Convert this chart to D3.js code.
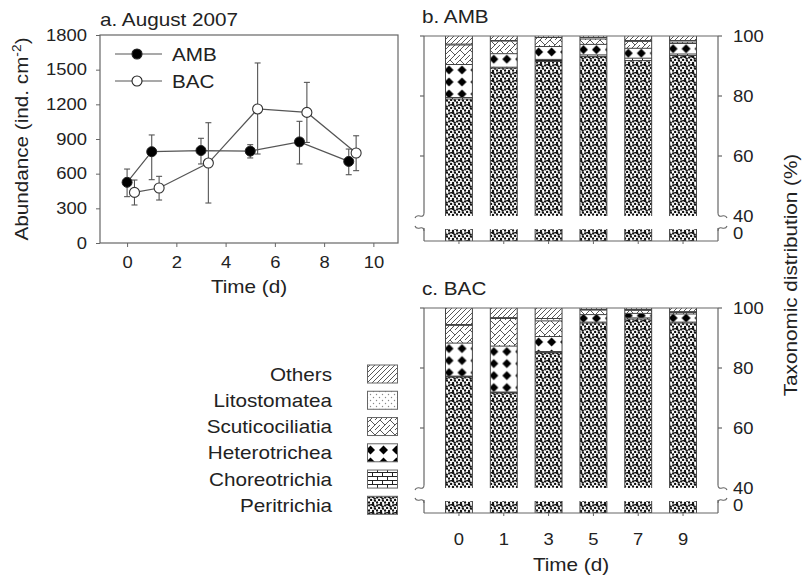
<!DOCTYPE html>
<html><head><meta charset="utf-8">
<script src="https://cdn.jsdelivr.net/npm/d3@7"></script>
<style>body{margin:0;background:#fff}svg{display:block}</style>
</head><body><svg id="c" width="808" height="577"></svg>
<script>
// ---------- data ----------
const timeAMB=[0,1,3,5,7,9];
const ambMean=[525,790,800,795,875,706];
const ambLow=[401,548,684,736,684,591];
const ambHigh=[640,935,906,851,1053,813];
const timeBAC=[0.3,1.3,3.3,5.3,7.3,9.3];
const bacMean=[438,476,692,1160,1130,779];
const bacLow=[329,372,346,770,870,626];
const bacHigh=[545,577,1041,1558,1390,928];
const abundTicks=[0,300,600,900,1200,1500,1800];
const timeTicks=[0,2,4,6,8,10];

const days=["0","1","3","5","7","9"];
const taxa=["Peritrichia","Choreotrichia","Heterotrichea","Scuticociliatia","Litostomatea","Others"];
const ambPeri=[79.0,89.3,91.5,93.2,91.8,93.5];
const ambChor=[0.5,0.3,0.7,0.5,0.8,0.5];
const ambHet=[11.0,4.5,4.3,3.5,3.3,3.5];
const ambScu=[6.5,4.2,3.0,1.8,2.3,0.5];
const ambLit=[0.3,0.2,0.0,0.5,0.3,0.5];
const ambOth=[2.7,1.5,0.5,0.5,1.5,1.5];
const bacPeri=[77.0,71.7,85.1,95.0,96.3,95.0];
const bacChor=[0.3,0.3,0.4,0.3,0.4,0.3];
const bacHet=[11.0,15.3,5.0,2.5,1.5,2.7];
const bacScu=[5.9,9.2,5.2,1.5,1.0,0.5];
const bacLit=[0.3,0.3,0.8,0.2,0.3,0.3];
const bacOth=[5.5,3.2,3.5,0.5,0.5,1.2];
const pctTicks=[40,60,80,100];

// ---------- style ----------
const SX=1.15, FONT="'Liberation Sans', Arial, Helvetica, sans-serif", TC="#222", LC="#666", DC="#555";
const svg=d3.select("#c").attr("font-family",FONT);

function label(g,x,y,str,size,anchor,rot){
  return g.append("text")
    .attr("transform",`translate(${x},${y})${rot?` rotate(${rot})`:""} scale(${SX},1)`)
    .attr("font-size",size).attr("text-anchor",anchor||"start").attr("fill",TC).text(str);
}
function fixAxis(sel){
  sel.attr("font-size",16).attr("font-family",FONT).attr("color",TC);
  sel.select(".domain").remove();
  sel.selectAll(".tick line").attr("stroke",LC);
  sel.selectAll(".tick text").each(function(){
    const t=d3.select(this); const x=+t.attr("x")||0, y=+t.attr("y")||0;
    t.attr("x",null).attr("y",null).attr("transform",`translate(${x},${y}) scale(${SX},1)`);
  });
}

// ---------- patterns ----------
const defs=svg.append("defs");
function pat(id,w,h,fn,px,py){const p=defs.append("pattern").attr("id",id).attr("patternUnits","userSpaceOnUse").attr("width",w).attr("height",h);
  if(px!==undefined) p.attr("x",px).attr("y",py);
  p.append("rect").attr("width",w).attr("height",h).attr("fill","#fff"); fn(p); return "url(#"+id+")";}
const hetDraw=p=>p.append("path").attr("d","M6.5,1.5L11,6L6.5,10.5L2,6Z").attr("fill","#000");
pat("pPeri",8,8,p=>{[[1.2,1.4],[5.1,0.9],[3.1,3.9],[7.0,4.6],[1.0,6.5],[5.0,7.0],[3.3,0.3],[6.6,2.6]].forEach(d=>p.append("circle").attr("cx",d[0]).attr("cy",d[1]).attr("r",1.2).attr("fill","#111"));});
pat("pChor",10,8,p=>p.append("path").attr("d","M0,0.5H10M0,4.5H10M2.5,0.5V4.5M7.5,4.5V8").attr("stroke","#222").attr("stroke-width",1).attr("fill","none"));
pat("pHet",13,12,hetDraw);
pat("pScu",10,10,p=>p.append("path").attr("d","M0,10L10,0M-1,1L1,-1M9,11L11,9M0,0L5,5M5,10L10,5").attr("stroke","#444").attr("stroke-width",0.9).attr("fill","none"));
pat("pLit",6,6,p=>{[[1.5,1.5],[4.5,4.5]].forEach(d=>p.append("circle").attr("cx",d[0]).attr("cy",d[1]).attr("r",0.7).attr("fill","#888"));});
pat("pOth",5,5,p=>p.append("path").attr("d","M0,5L5,0M-1,1L1,-1M4,6L6,4").attr("stroke","#444").attr("stroke-width",0.9));
const fills={Peritrichia:"url(#pPeri)",Choreotrichia:"url(#pChor)",Heterotrichea:"url(#pHet)",Scuticociliatia:"url(#pScu)",Litostomatea:"url(#pLit)",Others:"url(#pOth)"};

// ---------- panel a ----------
const A={l:100,r:398,t:35,b:243};
const xa=d3.scaleLinear().domain([-1.1,11]).range([A.l,A.r]);
const ya=d3.scaleLinear().domain([0,1800]).range([A.b,A.t]);
const ga=svg.append("g");
ga.append("g").attr("transform",`translate(${A.l},0)`).call(d3.axisLeft(ya).tickValues(abundTicks).tickFormat(d3.format("d")).tickSize(4).tickPadding(9)).call(fixAxis);
ga.append("g").attr("transform",`translate(0,${A.b})`).call(d3.axisBottom(xa).tickValues(timeTicks).tickFormat(d3.format("d")).tickSize(4).tickPadding(10)).call(fixAxis);
ga.append("rect").attr("x",A.l).attr("y",A.t).attr("width",A.r-A.l).attr("height",A.b-A.t).attr("fill","none").attr("stroke",LC).attr("stroke-width",1.2);
label(ga,100,26,"a. August 2007",18,"start");
label(ga,(A.l+A.r)/2,293,"Time (d)",18,"middle");
const yl=label(ga,28,(A.t+A.b)/2,"",18,"middle",-90);
yl.append("tspan").text("Abundance (ind. cm");
yl.append("tspan").attr("font-size",12).attr("dy",-7).text("-2");
yl.append("tspan").attr("dy",7).text(")");

const line=d3.line().x(d=>xa(d[0])).y(d=>ya(d[1]));
function series(t,m,lo,hi){
  const pts=t.map((v,i)=>[v,m[i]]);
  const eg=ga.append("g").attr("stroke",DC).attr("stroke-width",1.1);
  t.forEach((v,i)=>{const x=xa(v);
    eg.append("line").attr("x1",x).attr("x2",x).attr("y1",ya(lo[i])).attr("y2",ya(hi[i]));
    eg.append("line").attr("x1",x-3).attr("x2",x+3).attr("y1",ya(lo[i])).attr("y2",ya(lo[i]));
    eg.append("line").attr("x1",x-3).attr("x2",x+3).attr("y1",ya(hi[i])).attr("y2",ya(hi[i]));});
  ga.append("path").datum(pts).attr("d",line).attr("fill","none").attr("stroke",DC).attr("stroke-width",1.2);
  return pts;
}
const pA=series(timeAMB,ambMean,ambLow,ambHigh);
const pB=series(timeBAC,bacMean,bacLow,bacHigh);
ga.selectAll(".mA").data(pA).join("circle").attr("cx",d=>xa(d[0])).attr("cy",d=>ya(d[1])).attr("r",5).attr("fill","#000").attr("stroke","#222");
ga.selectAll(".mB").data(pB).join("circle").attr("cx",d=>xa(d[0])).attr("cy",d=>ya(d[1])).attr("r",5).attr("fill","#fff").attr("stroke","#333").attr("stroke-width",1.1);
[["AMB",54,"#000"],["BAC",81,"#fff"]].forEach(([n,y,f])=>{
  ga.append("line").attr("x1",115).attr("x2",162).attr("y1",y).attr("y2",y).attr("stroke",DC).attr("stroke-width",1.2);
  ga.append("circle").attr("cx",137).attr("cy",y).attr("r",5).attr("fill",f).attr("stroke","#222").attr("stroke-width",1.1);
  label(ga,172,y+6.5,n,18,"start");
});

// ---------- panels b, c ----------
const xb=d3.scaleBand().domain(days).range([424,718]).paddingInner(0.4).paddingOuter(0.48);
function breakMark(g,x,y,dir,up){
  const s=dir; const d = up
    ? `M${x},${y-3} Q${x},${y+1} ${x-4*s},${y} T${x-9*s},${y+2}`
    : `M${x},${y+3} Q${x},${y-1} ${x-4*s},${y} T${x-9*s},${y-2}`;
  g.append("path").attr("d",d).attr("fill","none").attr("stroke",LC).attr("stroke-width",1.1);
}
let patCount=0;
function barPanel(off,arrs,title,showX){
  const top=36+off, y40=216+off, lowTop=229+off, bottom=241+off;
  const yUp=d3.scaleLinear().domain([40,100]).range([y40,top]);
  const yLow=d3.scaleLinear().domain([0,4]).range([bottom,lowTop]);
  const g=svg.append("g");
  const table=days.map((d,i)=>{const o={day:d}; taxa.forEach((t,k)=>o[t]=arrs[k][i]); return o;});
  const stack=d3.stack().keys(taxa)(table);
  const bw=xb.bandwidth();
  stack.forEach(layer=>{
    layer.forEach(seg=>{
      const x=xb(seg.data.day), v0=seg[0], v1=seg[1];
      if(v1>40 && v1>v0){
        const b=Math.max(v0,40);
        const yt=yUp(v1), h=yUp(b)-yUp(v1);
        let f=fills[layer.key];
        if(layer.key==="Heterotrichea"){
          const py = h<12 ? yt+h/2-6 : yt-0.5;
          f=pat("pHet"+(patCount++),13,12,hetDraw,x-3,py);
        }
        g.append("rect").attr("x",x).attr("y",yt).attr("width",bw).attr("height",h).attr("fill",f);
      }
      if(v0<4 && v1>v0){
        g.append("rect").attr("x",x).attr("y",yLow(Math.min(v1,4))).attr("width",bw).attr("height",yLow(v0)-yLow(Math.min(v1,4))).attr("fill",fills[layer.key]);
      }
    });
  });
  const og=g.append("g").attr("stroke","#444").attr("stroke-width",1).attr("fill","none");
  stack.forEach(layer=>layer.forEach(seg=>{
    const x=xb(seg.data.day);
    if(seg[1]<99.9 && seg[1]>40) og.append("line").attr("x1",x).attr("x2",x+bw).attr("y1",yUp(seg[1])).attr("y2",yUp(seg[1]));
  }));
  days.forEach(d=>{const x=xb(d);
    [x,x+bw].forEach(xx=>{
      og.append("line").attr("x1",xx).attr("x2",xx).attr("y1",yUp(40)).attr("y2",yUp(100));
      og.append("line").attr("x1",xx).attr("x2",xx).attr("y1",yLow(0)).attr("y2",yLow(4));
    });
  });
  const L=424,R=718;
  const fg=g.append("g").attr("stroke",LC).attr("stroke-width",1.2).attr("fill","none");
  fg.append("line").attr("x1",L).attr("x2",R).attr("y1",top).attr("y2",top);
  fg.append("line").attr("x1",L).attr("x2",R).attr("y1",bottom).attr("y2",bottom);
  [L,R].forEach(x=>{
    fg.append("line").attr("x1",x).attr("x2",x).attr("y1",top).attr("y2",y40-3);
    fg.append("line").attr("x1",x).attr("x2",x).attr("y1",lowTop-1).attr("y2",bottom);
  });
  breakMark(g,L,y40,1,true); breakMark(g,L,lowTop-1,1,false);
  breakMark(g,R,y40,-1,true); breakMark(g,R,lowTop-1,-1,false);
  [100,80,60].forEach(v=>{
    fg.append("line").attr("x1",L-4).attr("x2",L).attr("y1",yUp(v)).attr("y2",yUp(v));
    fg.append("line").attr("x1",R).attr("x2",R+4).attr("y1",yUp(v)).attr("y2",yUp(v));
  });
  pctTicks.forEach(v=>label(g,733,yUp(v)+5.8,String(v),16,"start"));
  label(g,733,bottom-2,"0",16,"start");
  const ax=g.append("g").attr("transform",`translate(0,${bottom})`).call(d3.axisBottom(xb).tickSize(3).tickPadding(18)).call(fixAxis);
  if(!showX) ax.selectAll(".tick text").remove();
  label(g,422,off===0?23:295,title,18,"start");
}
barPanel(0,[ambPeri,ambChor,ambHet,ambScu,ambLit,ambOth],"b. AMB",false);
barPanel(272,[bacPeri,bacChor,bacHet,bacScu,bacLit,bacOth],"c. BAC",true);
label(svg,571,571,"Time (d)",18,"middle");
label(svg,797,275,"Taxonomic distribution (%)",18,"middle",-90);

// ---------- legend ----------
const lg=svg.append("g");
taxa.forEach((t,i)=>{
  const cy=505.3-i*26.26;
  lg.append("rect").attr("x",367.5).attr("y",cy-9).attr("width",30).attr("height",18).attr("fill",fills[t]).attr("stroke","#666").attr("stroke-width",1);
  label(lg,332,cy+6.5,t,18,"end");
});
</script></body></html>
